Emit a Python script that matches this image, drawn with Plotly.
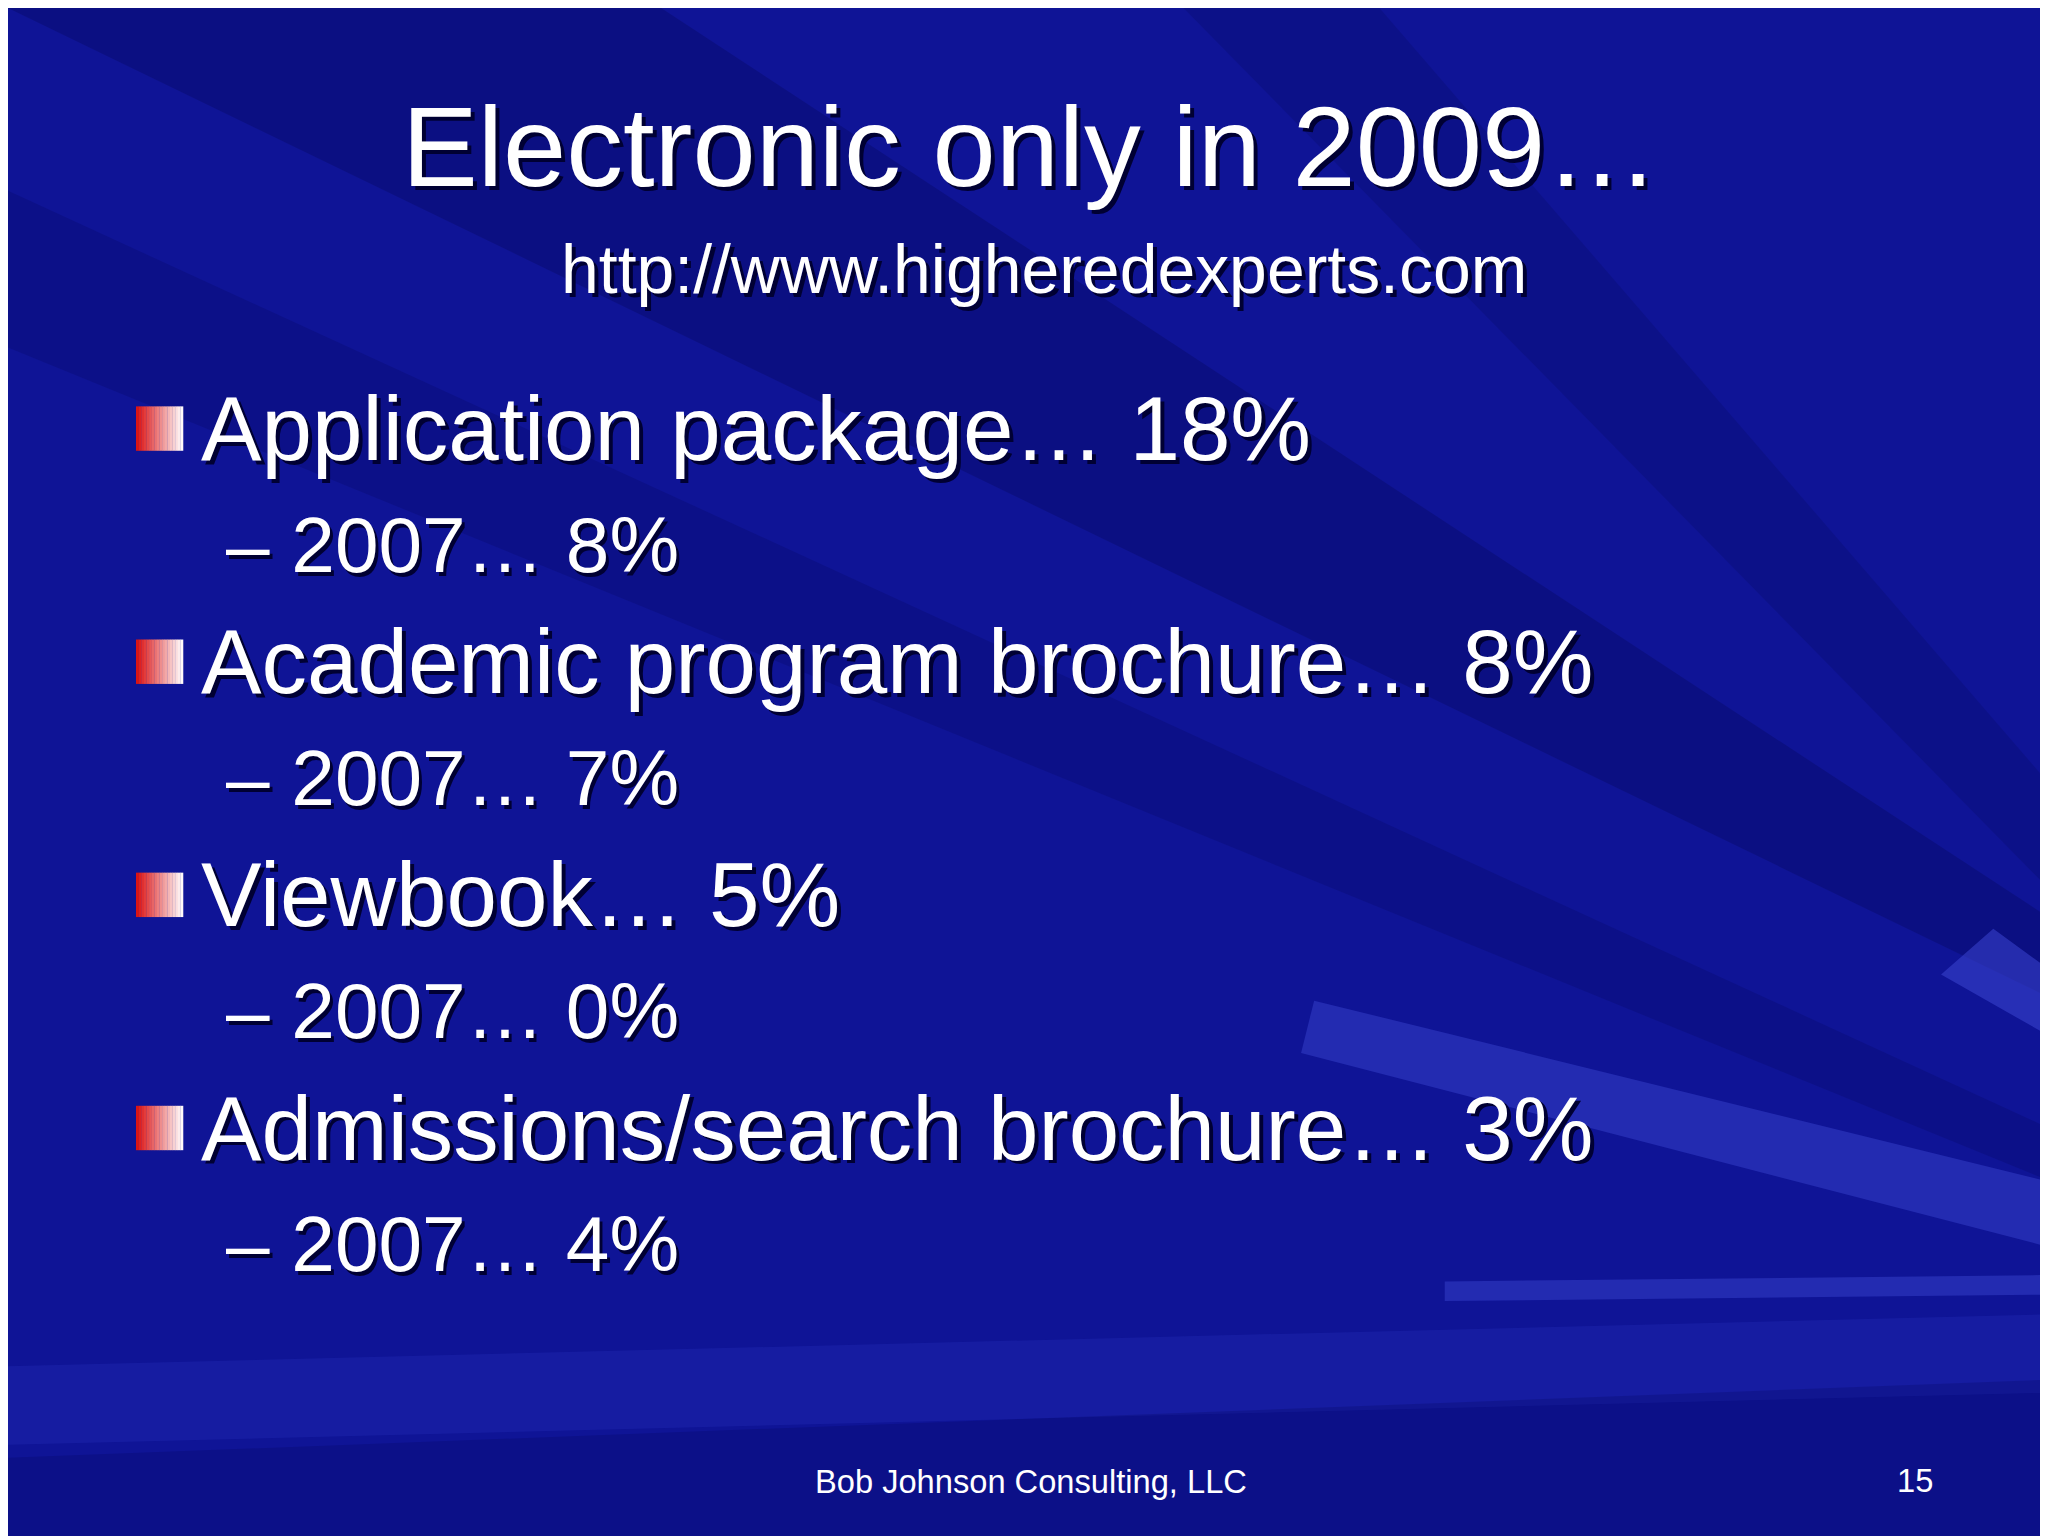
import plotly.graph_objects as go

title = "Electronic only in 2009…"
subtitle = "http://www.higheredexperts.com"
items = ["Application package", "Academic program brochure", "Viewbook", "Admissions/search brochure"]
pct_2009 = [18, 8, 5, 3]
pct_2007 = [8, 7, 0, 4]
footer = "Bob Johnson Consulting, LLC"
page = "15"

W, H = 1568, 1176
k = 2048 / W  # font scale

fig = go.Figure()
fig.update_xaxes(range=[0, W], visible=False, fixedrange=True)
fig.update_yaxes(range=[H, 0], visible=False, fixedrange=True)

# background rays
rays = [
    ("M 0 0 L 500 0 L 1568 700 L 1568 760 Z", "rgba(0,0,60,0.22)"),
    ("M 0 140 L 0 260 L 1568 900 L 1568 860 Z", "rgba(0,0,70,0.18)"),
    ("M 0 1040 L 0 1100 L 1568 1060 L 1568 1000 Z", "rgba(40,50,190,0.3)"),
    ("M 1000 760 L 990 800 L 1568 950 L 1568 900 Z", "rgba(60,70,210,0.45)"),
    ("M 1100 975 L 1100 990 L 1568 985 L 1568 970 Z", "rgba(60,70,210,0.45)"),
    ("M 1480 740 L 1520 705 L 1568 740 L 1568 790 Z", "rgba(60,70,210,0.55)"),
    ("M 0 1176 L 0 1110 L 1568 1050 L 1568 1176 Z", "rgba(0,0,80,0.2)"),
    ("M 900 0 L 1050 0 L 1568 600 L 1568 680 Z", "rgba(0,0,60,0.15)"),
]
for p, c in rays:
    fig.add_shape(type="path", path=p, fillcolor=c, line_width=0, layer="below")

def txt(x, y, s, size, anchor="left", shadow=True):
    if shadow:
        fig.add_annotation(x=x + 3, y=y + 3, text=s, showarrow=False, xanchor=anchor,
                           yanchor="middle", font=dict(family="Liberation Sans", size=size * k, color="#000033"))
    fig.add_annotation(x=x, y=y, text=s, showarrow=False, xanchor=anchor, yanchor="middle",
                       font=dict(family="Liberation Sans", size=size * k, color="white"))

txt(783, 106, title, 87, "center")
txt(793, 200, subtitle, 52, "center")

n = 18
for i, (name, a, b) in enumerate(zip(items, pct_2009, pct_2007)):
    y = 322 + i * 178.5
    for j in range(n):
        f = j / (n - 1)
        c = f"rgb({int(220 + 35 * f)},{int(20 + 230 * f)},{int(20 + 230 * f)})"
        fig.add_shape(type="rect", x0=98 + j * 2, x1=100.2 + j * 2, y0=y - 17, y1=y + 17,
                      fillcolor=c, line_width=0)
    txt(146, y, f"{name}… {a}%", 69.5)
    txt(165, y + 89, f"– 2007… {b}%", 60)

txt(783, 1128, footer, 25, "center", shadow=False)
txt(1460, 1127, page, 25, "center", shadow=False)

fig.update_layout(width=2048, height=1536, margin=dict(l=0, r=0, t=0, b=0),
                  paper_bgcolor="#0f1496", plot_bgcolor="#0f1496", showlegend=False)
fig.write_html("out.html")
